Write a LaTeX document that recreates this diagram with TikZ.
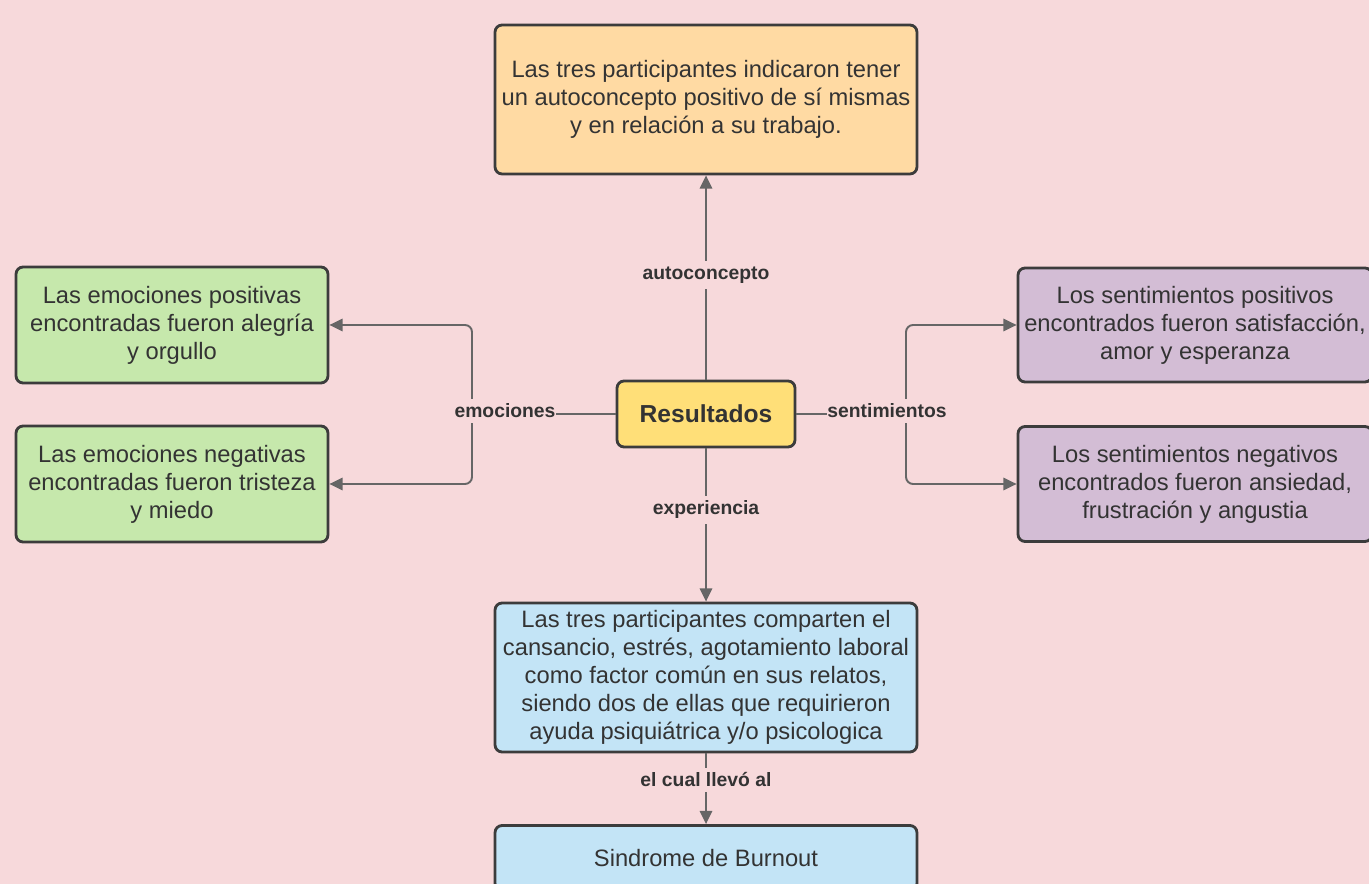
\documentclass[tikz,border=0pt]{standalone}
\usepackage{fontspec}
\setmainfont{Liberation Sans}
\usetikzlibrary{arrows.meta, positioning}
\definecolor{fondo}{HTML}{F7D9DB}
\definecolor{naranja}{HTML}{FFDAA3}
\definecolor{amarillo}{HTML}{FFDF78}
\definecolor{verde}{HTML}{C6E8AC}
\definecolor{morado}{HTML}{D3BDD5}
\definecolor{celeste}{HTML}{C3E4F6}
\definecolor{borde}{HTML}{3C3C3C}
\definecolor{flecha}{HTML}{666666}
\definecolor{texto}{HTML}{333333}

\begin{document}
\begin{tikzpicture}[x=0.02cm, y=-0.02cm,
    caja/.style={draw=borde, line width=1.6pt, rounded corners=4pt, align=center, text=texto,
                 font=\fontsize{13.5}{15.9}\selectfont, inner sep=2pt},
    linea/.style={draw=flecha, line width=1.1pt, rounded corners=4pt},
    flec/.style={linea, -{Triangle[length=7.5pt, width=7pt]}},
    etiq/.style={fill=fondo, text=texto, font=\bfseries\fontsize{11}{12}\selectfont,
                 inner xsep=0.5pt, inner ysep=3pt}]
                    \useasboundingbox (0,0) rectangle (1369,884);
                    \fill[fondo] (0,0) rectangle (1369,884);
                    \clip (0,0) rectangle (1369,884);
                    \node[caja, fill=amarillo, minimum width=3.56cm, minimum height=1.32cm,
                          font=\bfseries\fontsize{14}{16}\selectfont](res) at (706,414){Resultados};
                    \node[caja, fill=naranja, minimum width=8.44cm, minimum height=2.98cm](auto) at (706,99.5)
                        {Las tres participantes indicaron tener\\un autoconcepto positivo de sí mismas\\y en relación a su trabajo.};
                    \node[caja, fill=verde, minimum width=6.24cm, minimum height=2.32cm](emopos) at (172,325)
                        {Las emociones positivas\\encontradas fueron alegría\\y orgullo};
                    \node[caja, fill=verde, minimum width=6.24cm, minimum height=2.32cm](emoneg) at (172,484)
                        {Las emociones negativas\\encontradas fueron tristeza\\y miedo};
                    \node[caja, fill=morado, minimum width=7.08cm, minimum height=2.28cm](senpos) at (1195,325)
                        {Los sentimientos positivos\\encontrados fueron satisfacción,\\amor y esperanza};
                    \node[caja, fill=morado, minimum width=7.08cm, minimum height=2.3cm](senneg) at (1195,484)
                        {Los sentimientos negativos\\encontrados fueron ansiedad,\\frustración y angustia};
                    \node[caja, fill=celeste, minimum width=8.44cm, minimum height=2.98cm](exper) at (706,677.5)
                        {Las tres participantes comparten el\\cansancio, estrés, agotamiento laboral\\como factor común en sus relatos,\\siendo dos de ellas que requirieron\\ayuda psiquiátrica y/o psicologica};
                    \node[caja, fill=celeste, minimum width=8.44cm, minimum height=1.3cm](burn) at (706,858)
                        {Sindrome de Burnout};
                    \coordinate(emo) at (472,414);
                    \coordinate(sen) at (906,414);
                    \draw[flec] (res.north) -- (auto.south);
                    \draw[flec] (res.south) -- (exper.north);
                    \draw[flec] (exper.south) -- (burn.north);
                    \draw[linea] (res.west) -- (emo);
                    \draw[flec] (emo) |- (emopos.east);
                    \draw[flec] (emo) |- (emoneg.east);
                    \draw[linea] (res.east) -- (sen);
                    \draw[flec] (sen) |- (senpos.west);
                    \draw[flec] (sen) |- (senneg.west);
                    \node[etiq](lauto) at (706,275){autoconcepto};
                    \node[etiq](lemo) at (505,411){emociones};
                    \node[etiq](lsen) at (887,411){sentimientos};
                    \node[etiq](lexp) at (706,510){experiencia};
                    \node[etiq](lllevo) at (706,780){el cual llevó al};
                \end{tikzpicture}
\end{document}
